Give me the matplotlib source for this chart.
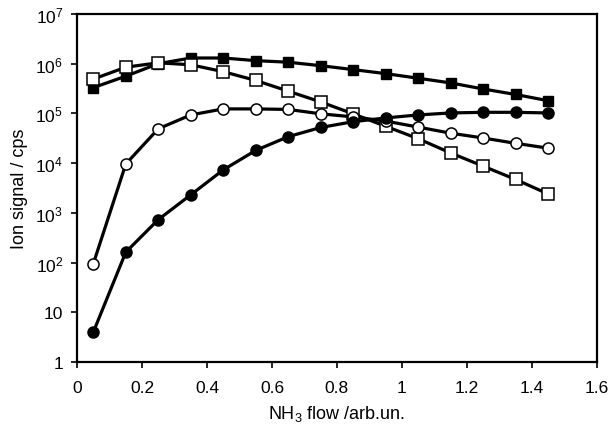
import matplotlib
matplotlib.use("Agg")
import matplotlib.pyplot as plt
from matplotlib.ticker import FixedLocator, FixedFormatter

plt.rcParams['font.family'] = ['Liberation Sans', 'DejaVu Sans']
plt.rcParams['mathtext.default'] = 'regular'

# NH3 flow settings
flow = [0.05, 0.15, 0.25, 0.35, 0.45, 0.55, 0.65, 0.75,
        0.85, 0.95, 1.05, 1.15, 1.25, 1.35, 1.45]

# ion signals (cps)
filled_sq = [3.3e5, 5.6e5, 1.0e6, 1.3e6, 1.3e6, 1.15e6, 1.07e6, 9.1e5,
             7.6e5, 6.3e5, 5.1e5, 4.1e5, 3.1e5, 2.4e5, 1.8e5]
open_sq = [4.9e5, 8.5e5, 1.04e6, 9.5e5, 6.9e5, 4.6e5, 2.8e5, 1.7e5,
           9.8e4, 5.5e4, 3.1e4, 1.6e4, 8.7e3, 4.7e3, 2.4e3]
open_circ = [95, 9.6e3, 4.9e4, 9.3e4, 1.23e5, 1.23e5, 1.2e5, 9.8e4,
             8.5e4, 7.0e4, 5.3e4, 4.0e4, 3.2e4, 2.5e4, 2.0e4]
filled_circ = [4, 162, 730, 2.3e3, 7.3e3, 1.8e4, 3.4e4, 5.2e4,
               6.8e4, 8.1e4, 9.3e4, 1.02e5, 1.05e5, 1.05e5, 1.02e5]

yticks = [1, 10, 1e2, 1e3, 1e4, 1e5, 1e6, 1e7]
ylabels = ['1', '10', '$10^2$', '$10^3$', '$10^4$', '$10^5$', '$10^6$', '$10^7$']
xticks = [0, 0.2, 0.4, 0.6, 0.8, 1, 1.2, 1.4, 1.6]
xlabels = ['0', '0.2', '0.4', '0.6', '0.8', '1', '1.2', '1.4', '1.6']

fig = plt.figure(figsize=(6.12, 4.27), dpi=100)
ax = fig.add_axes([0.126, 0.15, 0.849, 0.815])

lw = 2.3
ax.plot(flow, filled_sq, color='black', lw=lw, marker='s', ms=7.5,
        mfc='black', mec='black')
ax.plot(flow, open_sq, color='black', lw=lw, marker='s', ms=8,
        mfc='white', mec='black', mew=1.1)
ax.plot(flow, open_circ, color='black', lw=lw, marker='o', ms=8,
        mfc='white', mec='black', mew=1.1)
ax.plot(flow, filled_circ, color='black', lw=lw, marker='o', ms=8,
        mfc='black', mec='black')

ax.set_yscale('log')
ax.set_ylim(1, 1e7)
ax.set_xlim(0, 1.6)
ax.yaxis.set_major_locator(FixedLocator(yticks))
ax.yaxis.set_major_formatter(FixedFormatter(ylabels))
ax.yaxis.set_minor_locator(FixedLocator([]))
ax.set_xticks(xticks)
ax.set_xticklabels(xlabels)

ax.tick_params(axis='both', direction='out', length=4, width=1.2,
               labelsize=12.5)
ax.tick_params(axis='x', pad=9)
ax.tick_params(axis='y', pad=6)
for s in ax.spines.values():
    s.set_linewidth(1.6)

ax.set_xlabel('NH$_3$ flow /arb.un.', fontsize=13, labelpad=6)
ax.set_ylabel('Ion signal / cps', fontsize=13)
ax.yaxis.set_label_coords(-0.095, 0.5)

fig.savefig('out.png', dpi=100)
